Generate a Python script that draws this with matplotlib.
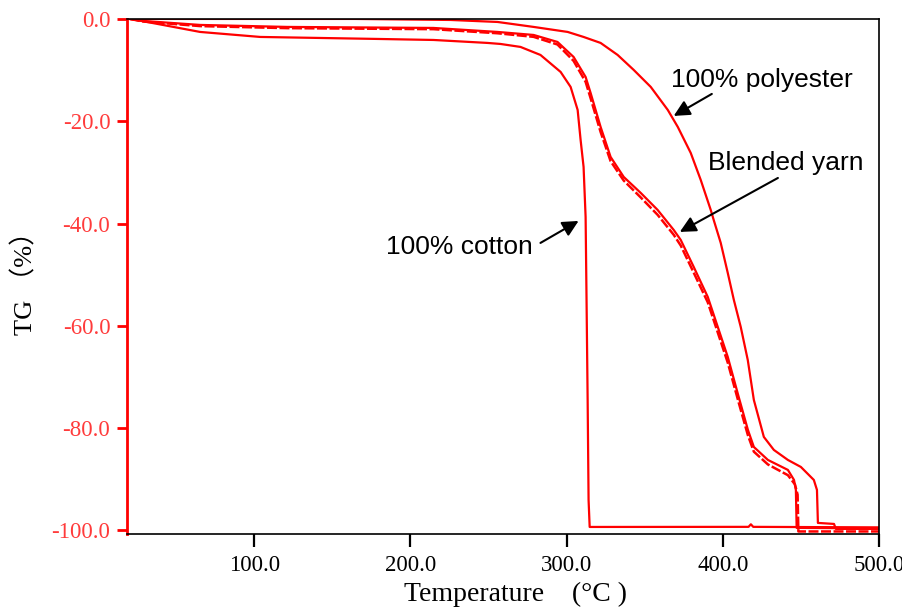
import numpy as np
import matplotlib.pyplot as plt

# --- dados (temperatura em °C, TG em %) ---
cotton_t = [20.5, 31.4, 65.4, 103.9, 178.9, 214.8, 249.4, 257.7, 270.5, 283.3,
            296.2, 302.6, 307.1, 309.0, 310.9, 312.2, 312.8, 313.5, 314.1, 314.8,
            416.5, 418.0, 419.5, 500.0]
cotton_w = [0.0, -0.59, -2.54, -3.52, -3.91, -4.11, -4.69, -4.89, -5.47, -7.04,
            -10.36, -13.29, -17.79, -23.66, -28.93, -38.71, -54.94, -74.49, -94.04, -99.32,
            -99.3, -98.8, -99.3, -99.4]

blend_t = [20.5, 28.9, 65.4, 121.2, 214.8, 255.8, 278.9, 294.2, 304.5, 312.2,
           315.4, 321.8, 328.2, 336.6, 347.5, 358.3, 368.6, 373.1, 381.4, 390.4,
           396.8, 403.2, 410.2, 416.1, 419.9, 428.9, 441.7, 445.6, 446.8, 447.3, 500.0]
blend_w = [0.0, -0.39, -1.17, -1.56, -1.76, -2.54, -3.13, -4.50, -7.43, -11.34,
           -14.47, -21.11, -26.98, -30.89, -34.02, -37.34, -41.25, -43.21, -48.48, -54.35,
           -60.21, -66.08, -73.90, -80.35, -83.68, -86.22, -88.17, -90.13, -92.08, -99.5, -99.6]

blend2_t = [20.5, 28.9, 65.4, 121.2, 214.8, 255.8, 278.9, 294.2, 304.5, 312.2,
            315.4, 321.8, 328.2, 336.6, 347.5, 358.3, 368.6, 373.1, 381.4, 390.4,
            396.8, 403.2, 410.2, 416.1, 419.9, 428.9, 441.7, 446.2, 447.9, 448.4, 500.0]
blend2_w = [0.0, -0.5, -1.4, -1.8, -2.0, -2.8, -3.5, -5.0, -8.2, -12.3,
            -15.5, -22.1, -27.8, -31.6, -34.9, -38.3, -42.2, -44.3, -49.6, -55.4,
            -61.3, -67.2, -75.0, -81.4, -84.6, -87.1, -89.2, -91.0, -93.0, -100.2, -100.2]

poly_t = [20.5, 164.8, 225.7, 255.8, 278.9, 300.7, 310.9, 321.8, 332.7, 343.0,
          353.9, 364.8, 371.2, 379.5, 385.9, 392.3, 394.2, 398.7, 403.2, 407.1,
          411.5, 416.0, 419.9, 426.3, 432.7, 441.7, 450.0, 458.3, 460.3, 460.9,
          471.2, 472.4, 500.0]
poly_w = [0.0, 0.0, -0.2, -0.59, -1.56, -2.54, -3.52, -4.69, -7.04, -9.97,
          -13.29, -17.79, -21.11, -26.20, -31.48, -37.34, -39.30, -43.79, -49.66, -54.94,
          -60.21, -66.67, -74.49, -81.72, -84.26, -86.22, -87.59, -90.13, -92.08, -98.53,
          -98.73, -99.7, -99.7]

x_ticks = [100, 200, 300, 400, 500]
y_ticks = [0, -20, -40, -60, -80, -100]

vermelho = '#ff0000'

fig = plt.figure(figsize=(9.03, 6.11), dpi=100)
ax = fig.add_axes([0.1406, 0.126, 0.8328, 0.843])

ax.plot(cotton_t, cotton_w, color=vermelho, lw=1.6)
ax.plot(blend_t, blend_w, color=vermelho, lw=1.6)
ax.plot(blend2_t, blend2_w, color=vermelho, lw=1.8, ls=(0, (4, 1)))
ax.plot(poly_t, poly_w, color=vermelho, lw=1.6)

ax.set_xlim(18.6, 500)
ax.set_ylim(-100.7, 0)

# eixos
for lado in ['top', 'right', 'bottom']:
    ax.spines[lado].set_color('black')
    ax.spines[lado].set_linewidth(1.2)
ax.spines['left'].set_color(vermelho)
ax.spines['left'].set_linewidth(2)

ax.set_xticks(x_ticks)
ax.set_xticklabels(['%.1f' % v for v in x_ticks], fontfamily='Liberation Serif', fontsize=16.5)
ax.set_yticks(y_ticks)
ax.set_yticklabels(['%.1f' % v for v in y_ticks], fontfamily='Liberation Serif', fontsize=16.5,
                   color='#ff3b3b')
ax.tick_params(axis='x', direction='out', length=9, width=1.6, color='black', pad=6)
ax.tick_params(axis='y', direction='out', length=7, width=2, color=vermelho, pad=5)

# rótulos
ax.set_ylabel('TG （%）', fontfamily=['Liberation Serif', 'Noto Sans CJK JP'], fontsize=19,
              labelpad=10)
fig.text(0.571, 0.016, 'Temperature　(°C )', fontfamily=['Liberation Serif', 'Noto Sans CJK JP'],
         fontsize=20, ha='center', va='baseline')

# anotações
seta = dict(arrowstyle='-|>', color='black', lw=1.5, mutation_scale=24, shrinkA=0, shrinkB=0)
ax.annotate('', xy=(368.6, -18.96), xytext=(393.0, -14.66), arrowprops=seta)
ax.annotate('', xy=(372.5, -41.64), xytext=(435.3, -31.09), arrowprops=seta)
ax.annotate('', xy=(307.7, -39.49), xytext=(283.3, -43.79), arrowprops=seta)

fonte = dict(fontfamily='Liberation Sans', fontsize=19, va='baseline', ha='left')
ax.text(366.7, -13.35, '100% polyester', **fonte)
ax.text(390.4, -29.52, 'Blended yarn', **fonte)
ax.text(184.6, -45.94, '100% cotton', **fonte)

fig.savefig('out.png', dpi=100)
